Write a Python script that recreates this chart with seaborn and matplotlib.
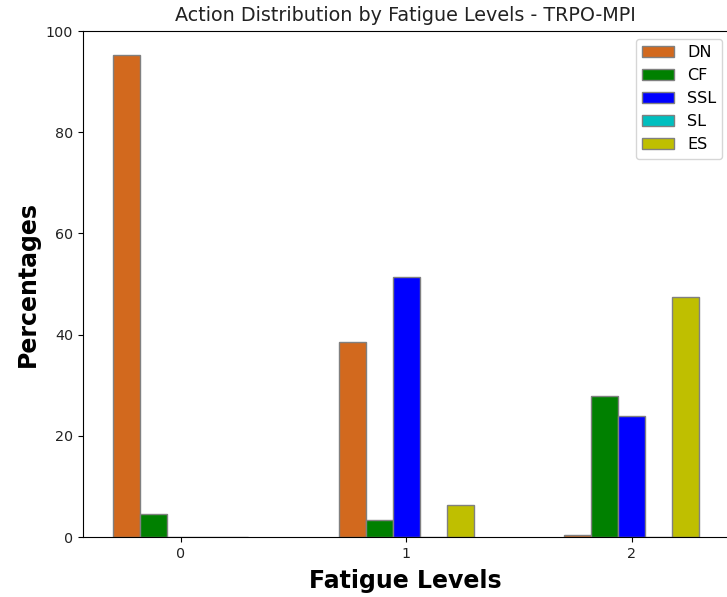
import pandas as pd
import seaborn as sns
import matplotlib.pyplot as plt

# --- data ---
fatigue_levels = ['0', '1', '2']
actions = ['DN', 'CF', 'SSL', 'SL', 'ES']
dn_vals = [95.3, 38.5, 0.4]
cf_vals = [4.5, 3.4, 27.9]
ssl_vals = [0.0, 51.4, 23.9]
sl_vals = [0.0, 0.0, 0.0]
es_vals = [0.0, 6.3, 47.4]
action_colors = ['#d2691e', 'green', 'blue', 'c', 'y']

# long format for seaborn
rows = []
for act, vals in zip(actions, [dn_vals, cf_vals, ssl_vals, sl_vals, es_vals]):
    for lvl, v in zip(fatigue_levels, vals):
        rows.append({'fatigue': lvl, 'action': act, 'pct': v})
df = pd.DataFrame(rows)

fig = plt.figure(figsize=(7.27, 5.97), dpi=100)
ax = fig.add_axes([0.114, 0.1005, 0.888, 0.8475])

sns.barplot(data=df, x='fatigue', y='pct', hue='action', order=fatigue_levels,
            hue_order=actions, palette=action_colors, saturation=1,
            width=0.6, gap=0, edgecolor='grey', linewidth=1, ax=ax)

ax.set_xlim(-0.435, 2.43)
ax.set_ylim(0, 100)
ax.set_title('Action Distribution by Fatigue Levels - TRPO-MPI', fontsize=13.8,
             color='#222222', pad=7)
ax.set_xlabel('Fatigue Levels', fontsize=17, fontweight='bold', labelpad=6)
ax.set_ylabel('Percentages', fontsize=17, fontweight='bold')
ax.tick_params(labelsize=10.3, labelcolor='#222222')

handles, labels = ax.get_legend_handles_labels()
ax.legend(handles, labels, loc='upper right', fontsize=11.5,
          bbox_to_anchor=(1.003, 1.0))

plt.savefig('out.png', dpi=100)
